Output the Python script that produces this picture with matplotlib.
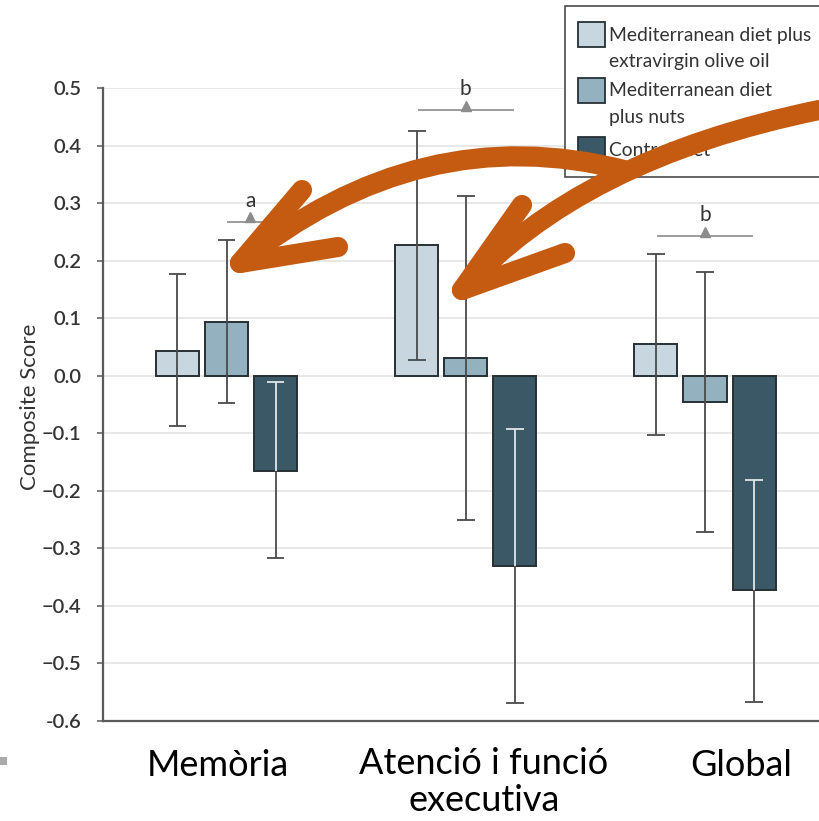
import numpy as np
import matplotlib.pyplot as plt
from matplotlib.patches import Rectangle, PathPatch
from matplotlib.path import Path
from matplotlib.lines import Line2D

plt.rcParams['font.family'] = ['Lato', 'DejaVu Sans']

W, H = 819, 821

categories = ['Memòria', 'Atenció i funció\nexecutiva', 'Global']
series = ['Mediterranean diet plus\nextravirgin olive oil',
          'Mediterranean diet\nplus nuts',
          'Control diet']

# composite score, lower and upper CI per category
olive_mean = [0.043, 0.227, 0.055]
olive_low = [-0.088, 0.028, -0.103]
olive_high = [0.176, 0.425, 0.211]

nuts_mean = [0.093, 0.031, -0.046]
nuts_low = [-0.048, -0.251, -0.272]
nuts_high = [0.235, 0.313, 0.180]

control_mean = [-0.165, -0.330, -0.373]
control_low = [-0.317, -0.568, -0.567]
control_high = [-0.011, -0.092, -0.182]

# significance marks: letter, height, span (relative to group centre)
sig_letters = ['a', 'b', 'b']
sig_y = [0.268, 0.461, 0.243]
sig_x0 = [0.0, -0.2, -0.2]
sig_x1 = [0.2, 0.2, 0.2]

yticks = [-0.6, -0.5, -0.4, -0.3, -0.2, -0.1, 0.0, 0.1, 0.2, 0.3, 0.4, 0.5]
ytick_labels = ['-0.6', '\u22120.5', '\u22120.4', '\u22120.3', '\u22120.2', '\u22120.1',
                '0.0', '0.1', '0.2', '0.3', '0.4', '0.5']

colors = ['#c8d6df', '#94b1bf', '#3a5865']
orange = '#c55a11'


def fx(px):
    return px / W


def fy(py):
    return 1 - py / H


fig = plt.figure(figsize=(W / 100, H / 100), dpi=100)
ax = fig.add_axes([fx(103), fy(721), (W - 103) / W, (721 - 88) / H])

x = np.arange(len(categories))
width = 0.18
step = 0.205
cap = 0.037

means = [olive_mean, nuts_mean, control_mean]
lows = [olive_low, nuts_low, control_low]
highs = [olive_high, nuts_high, control_high]

for i in range(3):
    xs = x + (i - 1) * step
    m = np.array(means[i])
    lo = np.array(lows[i])
    hi = np.array(highs[i])
    ax.bar(xs, m, width, color=colors[i], edgecolor='#263035', linewidth=1.4, zorder=3)
    ax.vlines(xs, lo, hi, color='#4a4a4a', lw=1.3, zorder=4)
    ax.hlines(lo, xs - cap, xs + cap, color='#4a4a4a', lw=1.3, zorder=4)
    ax.hlines(hi, xs - cap, xs + cap, color='#4a4a4a', lw=1.3, zorder=4)
    if i == 2:
        # part of the CI inside the dark bar is drawn light
        ax.vlines(xs, m, hi, color='#dfe8ec', lw=1.3, zorder=5)
        ax.hlines(hi, xs - cap, xs + cap, color='#dfe8ec', lw=1.3, zorder=5)

for i in range(3):
    ax.hlines(sig_y[i], x[i] + sig_x0[i], x[i] + sig_x1[i], color='#8c8c8c', lw=1.2, zorder=3)
    xm = x[i] + (sig_x0[i] + sig_x1[i]) / 2
    ax.plot(xm, sig_y[i] + 0.007, marker='^', ms=7, color='#8c8c8c', zorder=3)
    ax.text(xm, sig_y[i] + 0.026, sig_letters[i], ha='center', va='baseline',
            fontsize=15, color='#333333')

ax.set_xlim((103 - 226.5) / 239.25, (819 - 226.5) / 239.25)
ax.set_ylim(-0.6, 0.5)
ax.set_yticks(yticks)
ax.set_yticklabels(ytick_labels)
ax.set_xticks([])
ax.tick_params(axis='y', length=4.5, width=1.1, color='#5a5a5a', labelsize=14.5,
               labelcolor='#333333', pad=11)
for t in ax.get_yticklabels():
    t.set_fontweight('semibold')
ax.set_axisbelow(True)
ax.yaxis.grid(True, color='#e4e4e4', lw=1.2)
for s in ['top', 'right']:
    ax.spines[s].set_visible(False)
for s in ['left', 'bottom']:
    ax.spines[s].set_color('#5a5a5a')
    ax.spines[s].set_linewidth(1.6)

fig.text(fx(30), fy(407), 'Composite Score', rotation=90, ha='center', va='center',
         fontsize=16, color='#333333', family=['Liberation Sans Narrow', 'Lato'])

# category labels
label_pos = [(218, 765), (484, 782), (741, 765)]
for lab, (px, py) in zip(categories, label_pos):
    fig.text(fx(px), fy(py), lab, ha='center', va='center', fontsize=26,
             color='black', linespacing=1.12)

# legend box
fig.add_artist(Rectangle((fx(565), fy(177)), fx(300), (177 - 6) / H, transform=fig.transFigure,
                         facecolor='white', edgecolor='#4a4a4a', lw=1.2, zorder=5))
leg_y = [22, 78, 137]
for i, lab in enumerate(series):
    fig.add_artist(Rectangle((fx(578), fy(leg_y[i] + 25)), 27 / W, 25 / H,
                             transform=fig.transFigure, facecolor=colors[i],
                             edgecolor='#263035', lw=1.3, zorder=6))
    for j, line in enumerate(lab.split('\n')):
        fig.text(fx(609), fy(leg_y[i] + 13 + j * 26), line, ha='left', va='center',
                 fontsize=13.9, color='#333333', zorder=7)

# orange hand-drawn arrows
curves = [[(819, 110), (580, 159), (462, 290)],
          [(624, 170), (420, 118), (240, 263)]]
heads = [[(522, 205), (462, 290), (565, 253)],
         [(302, 190), (240, 263), (338, 247)]]
for pts in curves:
    verts = [(fx(a), fy(b)) for a, b in pts]
    p = Path(verts, [Path.MOVETO, Path.CURVE3, Path.CURVE3])
    fig.add_artist(PathPatch(p, transform=fig.transFigure, fill=False, edgecolor=orange,
                             lw=14.5, capstyle='round', joinstyle='round', zorder=10))
for pts in heads:
    fig.add_artist(Line2D([fx(a) for a, b in pts], [fy(b) for a, b in pts],
                          transform=fig.transFigure, color=orange, lw=14.5,
                          solid_capstyle='round', solid_joinstyle='round', zorder=10))

fig.add_artist(Rectangle((0, fy(765)), fx(7), 8 / H, transform=fig.transFigure,
                         facecolor='#aaaaaa', edgecolor='none'))

fig.savefig('out.png', dpi=100)
